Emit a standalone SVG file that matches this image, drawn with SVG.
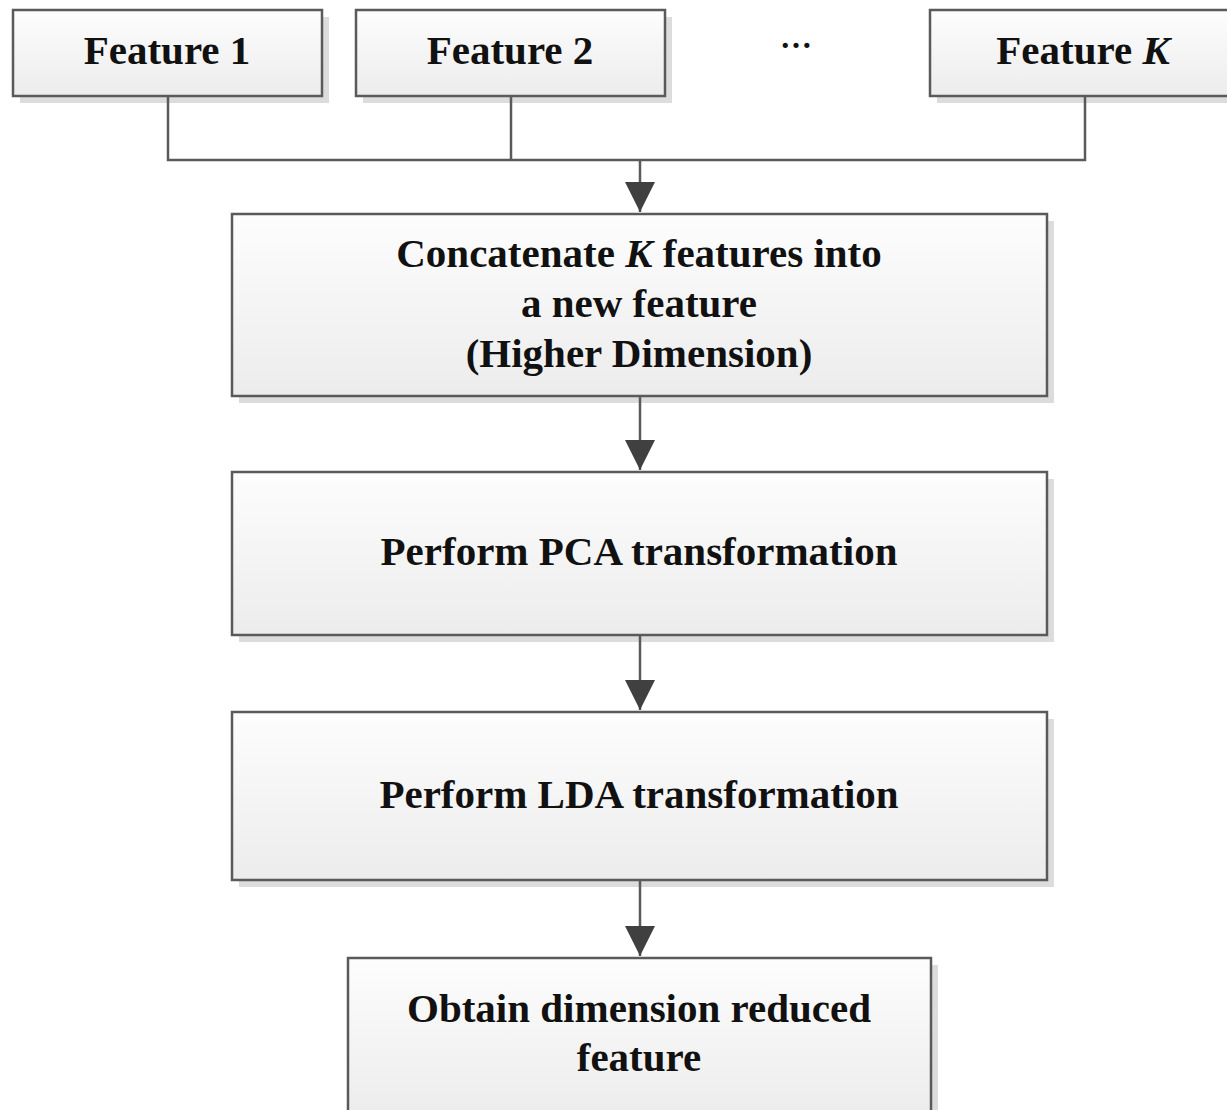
<svg xmlns="http://www.w3.org/2000/svg" width="1227" height="1110" viewBox="0 0 1227 1110">
<defs>
<linearGradient id="g" x1="0" y1="0" x2="0" y2="1">
<stop offset="0" stop-color="#fdfdfd"/>
<stop offset="1" stop-color="#ececec"/>
</linearGradient>
<marker id="arr" markerWidth="32" markerHeight="32" refX="16" refY="31" orient="0" markerUnits="userSpaceOnUse" viewBox="0 0 32 32">
<path d="M1,1 L31,1 L16,31 Z" fill="#404040"/>
</marker>
</defs>
<style>
.sh{fill:#dcdcdc}
.bx{fill:url(#g);stroke:#5a5a5a;stroke-width:2.5}
.t{font-family:"Liberation Serif","Times New Roman",serif;font-weight:bold;font-size:41px;fill:#111;text-anchor:middle}
.c{fill:none;stroke:#5a5a5a;stroke-width:2.5}
</style>
<rect width="1227" height="1110" fill="#fff"/>
<g id="f1">
<rect class="sh" x="20" y="17" width="309" height="86"/>
<rect class="bx" x="13" y="10" width="309" height="86"/>
<text class="t" x="167" y="64">Feature 1</text>
</g>
<g id="f2">
<rect class="sh" x="363" y="17" width="309" height="86"/>
<rect class="bx" x="356" y="10" width="309" height="86"/>
<text class="t" x="510" y="64">Feature 2</text>
</g>
<g id="dots">
<text class="t" x="796" y="48" style="font-size:32px">…</text>
</g>
<g id="fk">
<rect class="sh" x="937" y="17" width="309" height="86"/>
<rect class="bx" x="930" y="10" width="309" height="86"/>
<text class="t" x="1083" y="64">Feature <tspan font-style="italic">K</tspan></text>
</g>
<g id="concat">
<rect class="sh" x="239" y="221" width="815" height="182"/>
<rect class="bx" x="232" y="214" width="815" height="182"/>
<text class="t" x="639" y="267">Concatenate <tspan font-style="italic">K</tspan> features into</text>
<text class="t" x="639" y="317">a new feature</text>
<text class="t" x="639" y="367">(Higher Dimension)</text>
</g>
<g id="pca">
<rect class="sh" x="239" y="479" width="815" height="163"/>
<rect class="bx" x="232" y="472" width="815" height="163"/>
<text class="t" x="639" y="565">Perform PCA transformation</text>
</g>
<g id="lda">
<rect class="sh" x="239" y="719" width="815" height="168"/>
<rect class="bx" x="232" y="712" width="815" height="168"/>
<text class="t" x="639" y="808">Perform LDA transformation</text>
</g>
<g id="obtain">
<rect class="sh" x="355" y="965" width="583" height="160"/>
<rect class="bx" x="348" y="958" width="583" height="160"/>
<text class="t" x="639" y="1022">Obtain dimension reduced</text>
<text class="t" x="639" y="1071">feature</text>
</g>
<g id="connectors">
<path class="c" d="M168,96 V160 H1085 V96"/>
<path class="c" d="M511,96 V160"/>
<path class="c" d="M640,160 V212" marker-end="url(#arr)"/>
<path class="c" d="M640,396 V470" marker-end="url(#arr)"/>
<path class="c" d="M640,635 V710" marker-end="url(#arr)"/>
<path class="c" d="M640,880 V956" marker-end="url(#arr)"/>
</g>
</svg>
